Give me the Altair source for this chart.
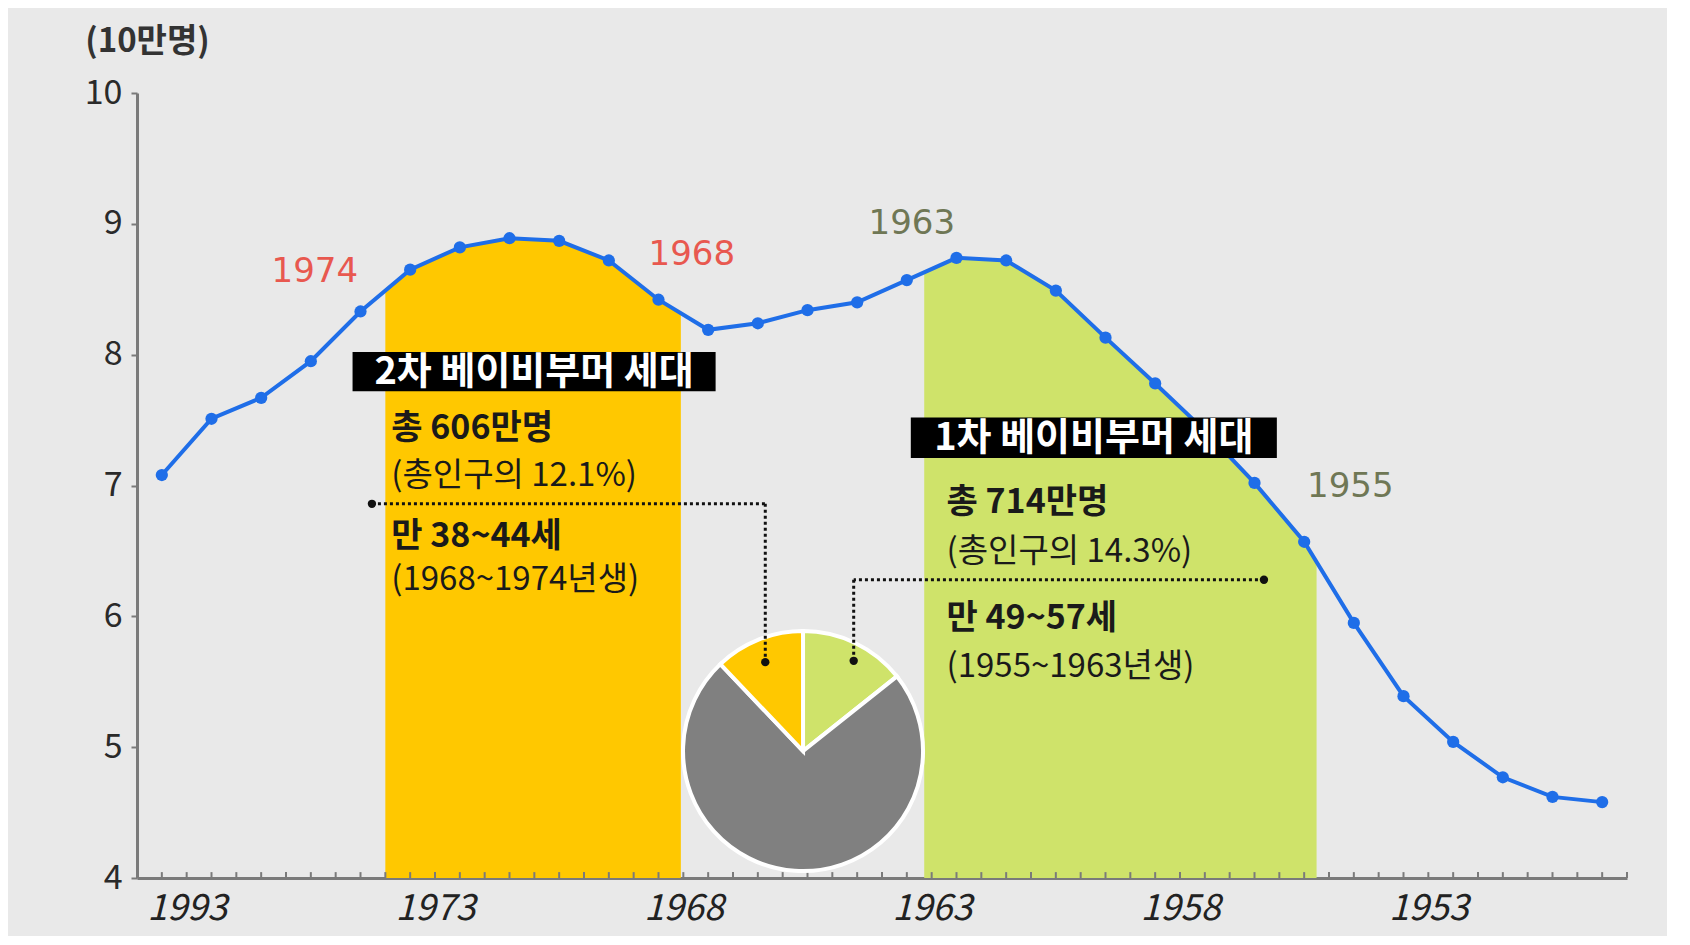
import json
import altair as alt
import numpy as np
import pandas as pd

# ---------------- data ----------------
years = list(range(1978, 1948, -1))  # 30 yearly points
values = [7.08, 7.51, 7.67, 7.95, 8.33, 8.65, 8.82, 8.89, 8.87, 8.72,
          8.42, 8.19, 8.24, 8.34, 8.40, 8.57, 8.74, 8.72, 8.49, 8.13,
          7.78, 7.42, 7.02, 6.57, 5.95, 5.39, 5.04, 4.77, 4.62, 4.58]

x_tick_values = [1977.5, 1972.5, 1967.5, 1962.5, 1957.5, 1952.5]
x_tick_labels = ["1993", "1973", "1968", "1963", "1958", "1953"]
y_tick_values = [4, 5, 6, 7, 8, 9, 10]

band_names = ["2차", "1차"]
band_start = [1973.5, 1962.65]
band_end = [1967.55, 1954.75]
band_colors = ["#ffc800", "#cfe36a"]

pie_names = ["1차 베이비부머", "기타", "2차 베이비부머"]
pie_shares = [14.3, 73.6, 12.1]
pie_colors = ["#cfe36a", "#808080", "#ffc800"]
pie_center = (1965.09, 4.97)

year_note_text = ["1974", "1968", "1963", "1955"]
year_note_x = [1974.92, 1967.33, 1962.9, 1954.07]
year_note_y = [8.63, 8.76, 9.0, 6.99]
year_note_color = ["#e8584f", "#e8584f", "#6f7755", "#6f7755"]

box_text = ["2차 베이비부머 세대", "1차 베이비부머 세대"]
box_x1 = [1974.16, 1962.92]
box_x2 = [1966.85, 1955.55]
box_y1 = [8.02, 7.52]
box_y2 = [7.72, 7.21]

info_text = ["총 606만명", "(총인구의 12.1%)", "만 38~44세", "(1968~1974년생)",
             "총 714만명", "(총인구의 14.3%)", "만 49~57세", "(1955~1963년생)"]
info_x = [1973.38] * 4 + [1962.2] * 4
info_y = [7.43, 7.07, 6.61, 6.28, 6.87, 6.49, 5.98, 5.61]
info_bold = [True, False, True, False, True, False, True, False]

lead_x1 = [1973.77, 1965.85, 1955.81, 1964.07]
lead_x2 = [1965.85, 1965.85, 1964.07, 1964.07]
lead_y1 = [6.86, 6.86, 6.28, 6.28]
lead_y2 = [6.86, 5.65, 6.28, 5.66]
dot_x = [1973.77, 1965.85, 1955.81, 1964.07]
dot_y = [6.86, 5.65, 6.28, 5.66]

minor_ticks = list(np.arange(1978.5, 1948.4, -0.5))

FONT = "Noto Sans CJK KR"

# ---------------- frames ----------------
line_df = pd.DataFrame({"year": years, "value": values})

rows = []
ys_inc = years[::-1]
vs_inc = values[::-1]
for name, s, e, c in zip(band_names, band_start, band_end, band_colors):
    rows.append({"band": name, "year": s, "value": float(np.interp(s, ys_inc, vs_inc)), "color": c})
    for y, v in zip(years, values):
        if e < y < s:
            rows.append({"band": name, "year": y, "value": v, "color": c})
    rows.append({"band": name, "year": e, "value": float(np.interp(e, ys_inc, vs_inc)), "color": c})
band_df = pd.DataFrame(rows)

pie_df = pd.DataFrame({"name": pie_names, "share": pie_shares, "color": pie_colors,
                       "ord": list(range(len(pie_names))),
                       "cx": [pie_center[0]] * 3, "cy": [pie_center[1]] * 3})

xs = alt.Scale(domain=[1948.5, 1978.5], reverse=True, nice=False, zero=False)
ys = alt.Scale(domain=[4, 10], nice=False, zero=False)

label_expr = json.dumps(x_tick_labels) + "[round((1977.5 - datum.value) / 5)]"

XAXIS = alt.Axis(
    values=x_tick_values, labelExpr=label_expr, title=None, grid=False,
    ticks=False, domainColor="#7a7a7a", domainWidth=3,
    labelFont=FONT, labelFontSize=36, labelFontStyle="italic",
    labelColor="#222222", labelPadding=13, labelFontWeight="normal")
YAXIS = alt.Axis(
    values=y_tick_values, title="(10만명)", titleAngle=0, titleX=10, titleY=-52,
    titleAlign="center", titleBaseline="middle", titleFont=FONT,
    titleFontSize=33, titleFontWeight="bold", titleColor="#333333",
    grid=False, domainColor="#7a7a7a", domainWidth=3, tickColor="#7a7a7a",
    tickSize=6, tickWidth=2, labelFont=FONT, labelFontSize=34,
    labelColor="#2a2a2a", labelPadding=9)


def X(f, **kw):
    return alt.X(f, type="quantitative", scale=xs, axis=XAXIS, **kw)


def Y(f, **kw):
    return alt.Y(f, type="quantitative", scale=ys, axis=YAXIS, **kw)


bands = alt.Chart(band_df).mark_area(opacity=1).encode(
    x=X("year"), y=Y("value"), y2=alt.datum(4),
    color=alt.Color("color:N", scale=None), detail="band:N",
)

ticks = alt.Chart(pd.DataFrame({"t": minor_ticks, "b": [4.0] * len(minor_ticks),
                                "e": [4.045] * len(minor_ticks)})).mark_rule(
    color="#7a7a7a", strokeWidth=2).encode(x=X("t"), y=Y("b"), y2="e")

pie = alt.Chart(pie_df).mark_arc(outerRadius=120, stroke="white", strokeWidth=4).encode(
    theta=alt.Theta("share:Q", stack=True),
    order=alt.Order("ord:Q"),
    color=alt.Color("color:N", scale=None),
    x=X("cx"), y=Y("cy"),
)

lead_df = pd.DataFrame({"x1": lead_x1, "x2": lead_x2, "y1": lead_y1, "y2": lead_y2})
leads = alt.Chart(lead_df).mark_rule(color="#111111", strokeWidth=3, strokeDash=[3, 3]).encode(
    x=X("x1"), x2="x2", y=Y("y1"), y2="y2")
dots = alt.Chart(pd.DataFrame({"x": dot_x, "y": dot_y})).mark_circle(
    color="#111111", size=70, opacity=1).encode(x=X("x"), y=Y("y"))

line = alt.Chart(line_df).mark_line(color="#1f6ee8", strokeWidth=4).encode(
    x=X("year"), y=Y("value"))
points = alt.Chart(line_df).mark_circle(color="#1f6ee8", size=150, opacity=1).encode(
    x=X("year"), y=Y("value"))

notes = alt.Chart(pd.DataFrame({"t": year_note_text, "x": year_note_x, "y": year_note_y,
                                "c": year_note_color})).mark_text(
    font="DejaVu Sans", fontSize=34, align="center", baseline="middle").encode(
    x=X("x"), y=Y("y"), text="t:N", color=alt.Color("c:N", scale=None))

box_df = pd.DataFrame({"t": box_text, "x1": box_x1, "x2": box_x2, "y1": box_y1, "y2": box_y2})
box_df["xm"] = (box_df.x1 + box_df.x2) / 2
box_df["ym"] = (box_df.y1 + box_df.y2) / 2
boxes = alt.Chart(box_df).mark_rect(color="#000000").encode(
    x=X("x1"), x2="x2", y=Y("y1"), y2="y2")
box_texts = alt.Chart(box_df).mark_text(
    font=FONT, fontSize=38, fontWeight="bold", color="white",
    align="center", baseline="middle", dy=1).encode(x=X("xm"), y=Y("ym"), text="t:N")

info_df = pd.DataFrame({"t": info_text, "x": info_x, "y": info_y, "b": info_bold})
info_bold_l = alt.Chart(info_df[info_df.b]).mark_text(
    font=FONT, fontSize=34, fontWeight="bold", color="#1a1a1a",
    align="left", baseline="middle").encode(x=X("x"), y=Y("y"), text="t:N")
info_norm_l = alt.Chart(info_df[~info_df.b]).mark_text(
    font=FONT, fontSize=33, fontWeight="normal", color="#1a1a1a",
    align="left", baseline="middle").encode(x=X("x"), y=Y("y"), text="t:N")

chart = alt.layer(
    bands, ticks, pie, leads, dots, line, points, notes, boxes, box_texts,
    info_bold_l, info_norm_l
).properties(
    width=1490, height=785,
    autosize=alt.AutoSizeParams(type="none"),
    padding={"left": 129, "top": 85, "right": 40, "bottom": 58},
    background="#e9e9e9",
).configure_view(stroke=None)

chart.save("out.html", embed_options={"renderer": "svg", "actions": False})
